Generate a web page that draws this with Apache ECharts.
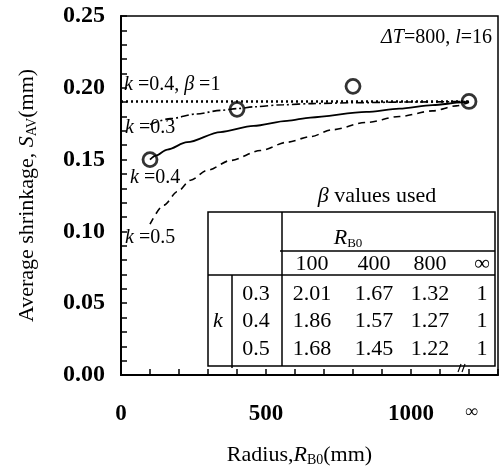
<!DOCTYPE html>
<html>
<head>
<meta charset="utf-8">
<script src="https://cdn.jsdelivr.net/npm/echarts@6/dist/echarts.min.js"></script>
<style>
  html, body { margin: 0; padding: 0; background: #fff; }
  #chart { width: 501px; height: 472px; }
</style>
</head>
<body>
<div id="chart"></div>
<script>
// R_B0 = infinity is drawn at this position of the x axis
const INF_R = 1200;

// x axis labels
const xLabelValues = [0, 500, 1000, INF_R];
const xLabelTexts = ['0', '500', '1000', '∞'];

// experimental points (circles)
const expR = [100, 400, 800, INF_R];
const expS = [0.150, 0.185, 0.201, 0.1905];

// k = 0.4, beta = 1 (dotted)
const beta1R = [0, INF_R];
const beta1S = [0.1905, 0.1905];

// k = 0.3 (dash-dot)
const k03R = [100, 170, 260, 345, 400, 460, 560, 660, 800, 1000, INF_R];
const k03S = [0.1745, 0.1785, 0.1818, 0.1843, 0.1855, 0.1868, 0.1882, 0.189, 0.1896, 0.1901, 0.1905];

// k = 0.4 (solid)
const k04R = [100, 120, 160, 228, 343, 457, 573, 653, 846, 960, 1074, 1178, INF_R];
const k04S = [0.150, 0.1528, 0.157, 0.1621, 0.1692, 0.1735, 0.177, 0.1793, 0.1832, 0.1855, 0.188, 0.1898, 0.1905];

// k = 0.5 (dashed)
const k05R = [100, 148, 194, 240, 297, 378, 481, 573, 653, 729, 846, 960, 1074, 1156, INF_R];
const k05S = [0.105, 0.1183, 0.1276, 0.1356, 0.1425, 0.1494, 0.1563, 0.1621, 0.166, 0.1708, 0.1759, 0.18, 0.1839, 0.1874, 0.190];

// beta values table
const betaColR = ['100', '400', '800', '∞'];
const betaRowK = ['0.3', '0.4', '0.5'];
const betaVals = [
    [2.01, 1.67, 1.32, 1],
    [1.86, 1.57, 1.27, 1],
    [1.68, 1.45, 1.22, 1]
];

const FONT = '"Liberation Serif", "Times New Roman", serif';

function pairs(xs, ys) {
    return xs.map(function (x, i) { return [x, ys[i]]; });
}

let myChart = echarts.init(document.getElementById('chart'));

// table drawn with graphic elements
const colX = [312, 374, 430, 482];
const rowY = [294, 321, 349];
const lineStyle = { stroke: '#000', lineWidth: 1.5 };
const italic = { fontFamily: FONT, fontSize: 20, fontStyle: 'italic', fill: '#000' };
let graphics = [
    { type: 'rect', shape: { x: 208, y: 212, width: 287, height: 154 }, style: { fill: '#fff', stroke: '#000', lineWidth: 1.5 }, z: 50 },
    { type: 'line', shape: { x1: 282, y1: 212, x2: 282, y2: 366 }, style: lineStyle, z: 51 },
    { type: 'line', shape: { x1: 280, y1: 251, x2: 495, y2: 251 }, style: lineStyle, z: 51 },
    { type: 'line', shape: { x1: 208, y1: 275, x2: 495, y2: 275 }, style: lineStyle, z: 51 },
    { type: 'line', shape: { x1: 232, y1: 275, x2: 232, y2: 368 }, style: lineStyle, z: 51 },
    {
        type: 'text', z: 52,
        style: {
            text: '{i|R}{sub|B0}', x: 348, y: 238, textAlign: 'center', textVerticalAlign: 'middle',
            rich: {
                i: { fontFamily: FONT, fontSize: 22, fontStyle: 'italic', fill: '#000' },
                sub: { fontFamily: FONT, fontSize: 13, fill: '#000', padding: [12, 0, 0, 0] }
            }
        }
    },
    {
        type: 'text', z: 52,
        style: { text: 'k', x: 218, y: 321, textAlign: 'center', textVerticalAlign: 'middle', font: 'italic 22px ' + FONT, fill: '#000' }
    },
    {
        type: 'text', z: 52,
        style: {
            text: '{i|β} values used', x: 377, y: 196, textAlign: 'center', textVerticalAlign: 'middle',
            rich: { i: { fontFamily: FONT, fontSize: 22, fontStyle: 'italic', fill: '#000' } },
            font: '22px ' + FONT, fill: '#000'
        }
    },
    {
        type: 'text', z: 52,
        style: {
            text: '{i|ΔT}=800, {i|l}=16', x: 492, y: 38, textAlign: 'right', textVerticalAlign: 'middle',
            rich: { i: italic }, font: '20px ' + FONT, fill: '#000'
        }
    },
    {
        type: 'text', z: 52,
        style: {
            text: '{i|k} =0.4, {i|β} =1', x: 124, y: 85, textAlign: 'left', textVerticalAlign: 'middle',
            rich: { i: italic }, font: '20px ' + FONT, fill: '#000'
        }
    },
    {
        type: 'text', z: 52,
        style: {
            text: '{i|k} =0.3', x: 125, y: 128, textAlign: 'left', textVerticalAlign: 'middle',
            rich: { i: italic }, font: '20px ' + FONT, fill: '#000'
        }
    },
    {
        type: 'text', z: 52,
        style: {
            text: '{i|k} =0.4', x: 130, y: 178, textAlign: 'left', textVerticalAlign: 'middle',
            rich: { i: italic }, font: '20px ' + FONT, fill: '#000'
        }
    },
    {
        type: 'text', z: 52,
        style: {
            text: '{i|k} =0.5', x: 125, y: 238, textAlign: 'left', textVerticalAlign: 'middle',
            rich: { i: italic }, font: '20px ' + FONT, fill: '#000'
        }
    },
    // axis break mark near infinity
    { type: 'line', shape: { x1: 458, y1: 372, x2: 461, y2: 364 }, style: { stroke: '#000', lineWidth: 1.2 }, z: 52 },
    { type: 'line', shape: { x1: 462, y1: 372, x2: 465, y2: 364 }, style: { stroke: '#000', lineWidth: 1.2 }, z: 52 }
];
betaColR.forEach(function (t, j) {
    graphics.push({ type: 'text', z: 52, style: { text: t, x: colX[j], y: 264, textAlign: 'center', textVerticalAlign: 'middle', font: '22px ' + FONT, fill: '#000' } });
});
betaRowK.forEach(function (t, i) {
    graphics.push({ type: 'text', z: 52, style: { text: t, x: 256, y: rowY[i], textAlign: 'center', textVerticalAlign: 'middle', font: '22px ' + FONT, fill: '#000' } });
    betaVals[i].forEach(function (v, j) {
        graphics.push({ type: 'text', z: 52, style: { text: v === 1 ? '1' : v.toFixed(2), x: colX[j], y: rowY[i], textAlign: 'center', textVerticalAlign: 'middle', font: '22px ' + FONT, fill: '#000' } });
    });
});

let option = {
    animation: false,
    textStyle: { fontFamily: FONT, color: '#000' },
    grid: {
        left: 121, right: 3, top: 16, bottom: 94,
        show: true, borderColor: '#000', borderWidth: 1.5
    },
    xAxis: {
        type: 'value',
        min: 0, max: 1300, interval: 100,
        name: 'Radius,{i|R}{sub|B0}(mm)',
        nameLocation: 'middle',
        nameGap: 68,
        nameTextStyle: {
            fontFamily: FONT, fontSize: 22, color: '#000', padding: [0, 20, 0, 0],
            rich: {
                i: { fontFamily: FONT, fontSize: 22, fontStyle: 'italic', color: '#000' },
                sub: { fontFamily: FONT, fontSize: 14, color: '#000', padding: [10, 0, 0, 0] }
            }
        },
        axisLine: { onZero: false, lineStyle: { color: '#000', width: 2 } },
        axisTick: { inside: true, length: 6, lineStyle: { color: '#000', width: 1.5 } },
        splitLine: { show: false },
        axisLabel: {
            interval: 0,
            margin: 28,
            fontFamily: FONT, fontSize: 23, fontWeight: 'bold', color: '#000',
            formatter: function (v) {
                let i = xLabelValues.indexOf(v);
                if (i < 0) return '';
                return v === INF_R ? '{inf|' + xLabelTexts[i] + '}' : xLabelTexts[i];
            },
            rich: { inf: { fontFamily: FONT, fontSize: 18, color: '#000', padding: [0, 0, 6, 6] } }
        }
    },
    yAxis: {
        type: 'value',
        min: 0, max: 0.25, interval: 0.05,
        name: 'Average shrinkage, {i|S}{sub|AV}(mm)',
        nameLocation: 'middle',
        nameGap: 82,
        nameTextStyle: {
            fontFamily: FONT, fontSize: 22, color: '#000',
            rich: {
                i: { fontFamily: FONT, fontSize: 22, fontStyle: 'italic', color: '#000' },
                sub: { fontFamily: FONT, fontSize: 14, color: '#000', padding: [10, 0, 0, 0] }
            }
        },
        axisLine: { onZero: false, lineStyle: { color: '#000', width: 2 } },
        axisTick: { inside: true, length: 6, lineStyle: { color: '#000', width: 1.5 } },
        minorTick: { show: true, splitNumber: 5, length: 6, lineStyle: { color: '#000', width: 1.5 } },
        splitLine: { show: false },
        axisLabel: {
            margin: 16,
            fontFamily: FONT, fontSize: 24, fontWeight: 'bold', color: '#000',
            formatter: function (v) { return v.toFixed(2); }
        }
    },
    graphic: graphics,
    series: [
        {
            name: 'k=0.4, beta=1', type: 'line', data: pairs(beta1R, beta1S),
            showSymbol: false, lineStyle: { color: '#000', width: 2.5, type: [2, 3] }, z: 3
        },
        {
            name: 'k=0.3', type: 'line', data: pairs(k03R, k03S), smooth: 0.3, smoothMonotone: 'x',
            showSymbol: false, lineStyle: { color: '#000', width: 1.6, type: [8, 3, 2, 3] }, z: 3
        },
        {
            name: 'k=0.4', type: 'line', data: pairs(k04R, k04S), smooth: 0.3, smoothMonotone: 'x',
            showSymbol: false, lineStyle: { color: '#000', width: 1.8 }, z: 3
        },
        {
            name: 'k=0.5', type: 'line', data: pairs(k05R, k05S), smooth: 0.3, smoothMonotone: 'x',
            showSymbol: false, lineStyle: { color: '#000', width: 1.6, type: [7, 5] }, z: 3
        },
        {
            name: 'experiment', type: 'scatter', data: pairs(expR, expS),
            symbol: 'circle', symbolSize: 14,
            itemStyle: { color: 'rgba(0,0,0,0)', borderColor: '#000', borderWidth: 2.8 }, z: 5
        }
    ]
};

myChart.setOption(option);
window.addEventListener('resize', function () {
    myChart.resize();
});
</script>
</body>
</html>
